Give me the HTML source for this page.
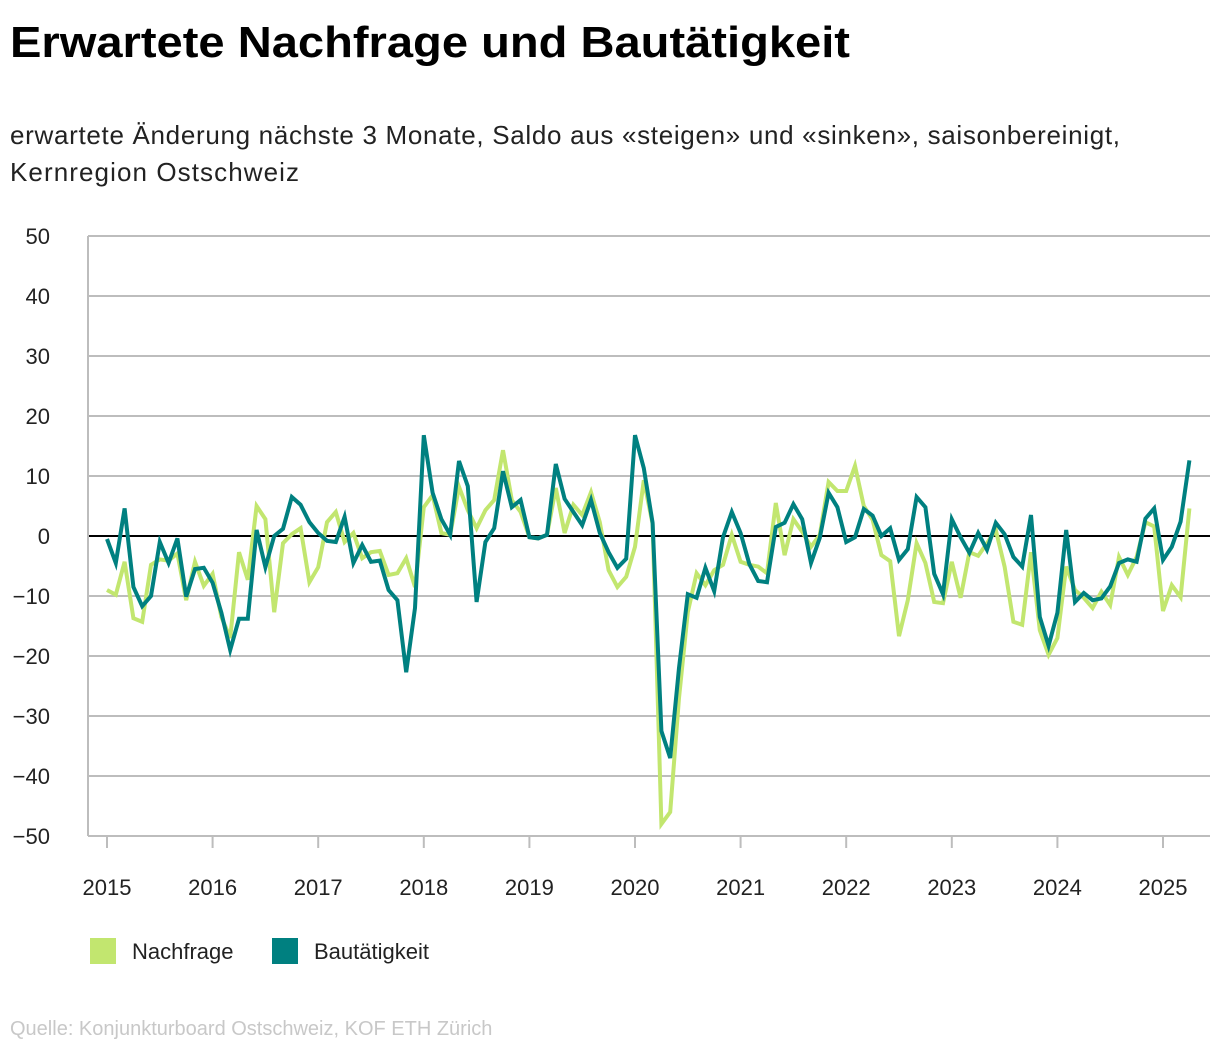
<!DOCTYPE html>
<html><head><meta charset="utf-8"><style>
body{margin:0;background:#fff}
svg{display:block;font-family:"Liberation Sans",sans-serif}
</style></head><body>
<svg id="chart" width="1220" height="1050" viewBox="0 0 1220 1050">
<text x="10" y="57" font-size="44" font-weight="bold" fill="#000" textLength="840" lengthAdjust="spacingAndGlyphs">Erwartete Nachfrage und Bautätigkeit</text>
<text x="10" y="144" font-size="26" fill="#222" textLength="1110">erwartete Änderung nächste 3 Monate, Saldo aus «steigen» und «sinken», saisonbereinigt,</text>
<text x="10" y="181" font-size="26" fill="#222" textLength="289">Kernregion Ostschweiz</text>
<g id="grid"></g>
<g id="yticks"></g>
<g id="xticks"></g>
<g id="series"></g>
<g>
<rect x="90" y="938" width="26" height="26" fill="#c2e66f"/>
<text x="132" y="959" font-size="22" fill="#222">Nachfrage</text>
<rect x="272" y="938" width="26" height="26" fill="#008080"/>
<text x="314" y="959" font-size="22" fill="#222">Bautätigkeit</text>
</g>
<text x="10" y="1035" font-size="20" fill="#c8c8c8">Quelle: Konjunkturboard Ostschweiz, KOF ETH Zürich</text>
</svg>
<script>
const years = [2015,2016,2017,2018,2019,2020,2021,2022,2023,2024,2025];
const yTicks = [50,40,30,20,10,0,-10,-20,-30,-40,-50];
const nachfrage = [
-9,-9.8,-4.3,-13.7,-14.3,-4.8,-3.9,-4.1,-2.9,-10.7,-4.3,-8.3,
-6.3,-13.5,-17,-2.7,-7.3,5,2.8,-12.7,-1.2,0.3,1.3,-7.7,
-5.2,2.3,4,-1,0.5,-3.7,-2.7,-2.5,-6.5,-6.2,-3.7,-8.5,
4.8,6.8,0.5,0.2,8.2,4.3,1.3,4.3,6,14.3,6,4,
-0.2,-0.4,0.2,8,0.5,5.2,3.5,7.3,2.3,-5.7,-8.5,-6.8,
-1.8,9.3,2,-48,-46,-27,-12.7,-6.2,-8.2,-5.7,-4.8,0.2,
-4.3,-4.8,-5.1,-6.2,5.5,-3.2,2.8,0.7,-1.8,0.2,9,7.5,
7.5,11.7,5,2.7,-3.2,-4.2,-16.7,-10.7,-1.2,-4.5,-11,-11.2,
-4.3,-10.3,-2.7,-3.3,-1.2,1,-5.1,-14.3,-14.8,-2.7,-15.7,-19.8,
-17,-5.1,-9,-10.3,-12,-9.3,-11.5,-3.5,-6.5,-3.5,2.3,1.6,
-12.5,-8.2,-10.2,4.6];
const bautaetigkeit = [
-0.5,-4.5,4.6,-8.5,-11.7,-10,-1,-4.5,-0.4,-10.1,-5.5,-5.3,
-7.8,-12.8,-19,-13.8,-13.8,1,-5.2,0,1.2,6.5,5.2,2.3,
0.5,-0.8,-1,3.2,-4.5,-1.5,-4.3,-4.1,-9,-10.7,-22.7,-12,
16.8,7.2,2.8,0.2,12.5,8.3,-11,-1,1.3,10.8,4.8,6,
-0.2,-0.4,0.2,12,6.2,4,1.8,6,0.5,-2.7,-5.3,-3.8,
16.8,11.3,2.2,-32.5,-37,-22,-9.7,-10.3,-5.3,-9.2,-0.2,4,
0.5,-4.7,-7.5,-7.7,1.5,2.2,5.3,2.8,-4.5,-0.3,7.2,4.8,
-1,-0.2,4.5,3.4,0,1.3,-4,-2.2,6.5,4.8,-6.3,-9.7,
2.8,-0.2,-2.8,0.5,-2.3,2.2,0.3,-3.5,-5.1,3.5,-13.5,-18.3,
-12.8,1,-11,-9.5,-10.7,-10.4,-8.4,-4.5,-3.9,-4.3,2.9,4.6,
-4,-1.8,2.4,12.6];
const NS="http://www.w3.org/2000/svg";
const X0=107, MONTH=(1163-107)/120, Y0=536, UNIT=6;
function xs(i){return X0+i*MONTH;}
function ys(v){return Y0-v*UNIT;}
function mk(tag,attrs,parent){const e=document.createElementNS(NS,tag);for(const k in attrs)e.setAttribute(k,attrs[k]);parent.appendChild(e);return e;}
const grid=document.getElementById('grid'),yt=document.getElementById('yticks'),xt=document.getElementById('xticks'),ser=document.getElementById('series');
yTicks.forEach(v=>{
  const l=mk('line',{x1:88,x2:1210,y1:ys(v),y2:ys(v),stroke:v===0?'#000':'#bdbdbd','stroke-width':2},grid);
  
  
  const t=mk('text',{x:50,y:ys(v)+8,'text-anchor':'end','font-size':22,fill:'#222'},yt);
  t.textContent=v<0?'\u2212'+(-v):String(v);
  
  
});
const ax=mk('line',{x1:88,x2:88,y1:236,y2:836,stroke:'#bdbdbd','stroke-width':2},grid);


years.forEach((y,k)=>{
  const x=xs(k*12);
  const tk=mk('line',{x1:x,x2:x,y1:836,y2:848,stroke:'#bdbdbd','stroke-width':2},xt);
  
  
  const t=mk('text',{x:x,y:895,'text-anchor':'middle','font-size':22,fill:'#222'},xt);
  t.textContent=String(y);
  
  
});
function line(data,color,name){
  const p=mk('polyline',{points:data.map((v,i)=>xs(i).toFixed(1)+','+ys(v).toFixed(1)).join(' '),fill:'none',stroke:color,'stroke-width':4,'stroke-linejoin':'miter'},ser);
  
  
}
line(nachfrage,'#c2e66f','line-nachfrage');
line(bautaetigkeit,'#008080','line-bautaetigkeit');
</script>
</body></html>
